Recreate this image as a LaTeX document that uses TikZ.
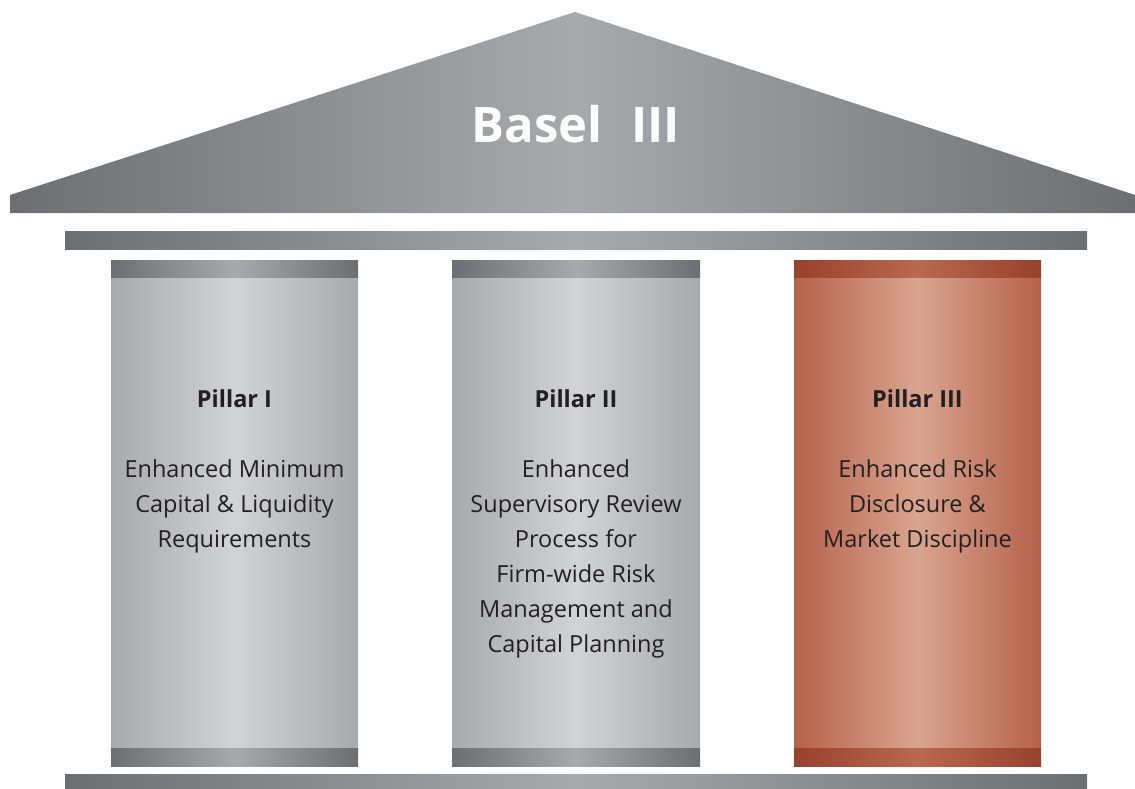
\documentclass[tikz,border=0pt]{standalone}
\usepackage{fontspec}
\setmainfont{Open Sans}
\definecolor{gdark}{HTML}{6D6E72}
\definecolor{gmid}{HTML}{A7A9AC}
\definecolor{glight}{HTML}{D1D3D4}
\definecolor{rdark}{HTML}{98412C}
\definecolor{rmidcap}{HTML}{B8694F}
\definecolor{redge}{HTML}{B5614A}
\definecolor{rlight}{HTML}{D9A58F}
\definecolor{ink}{HTML}{231F20}
\tikzset{
  x=1pt,y=-1pt,
  darkbar/.style={left color=gdark,right color=gdark,middle color=gmid},
  graybody/.style={left color=gmid,right color=gmid,middle color=glight},
  redcap/.style={left color=rdark,right color=rdark,middle color=rmidcap},
  redbody/.style={left color=redge,right color=redge,middle color=rlight},
  title/.style={font=\fontsize{23.5}{26}\selectfont\bfseries,text=ink,inner sep=0},
  body/.style={font=\fontsize{23.5}{35}\selectfont,text=ink,align=center,anchor=north,inner sep=0},
}
\begin{document}
\begin{tikzpicture}
\useasboundingbox (0,0) rectangle (1135,789);
% roof
\shade[darkbar] (10,195) -- (575,12) -- (1135,195) -- (1135,213) -- (10,213) -- cycle;
\node[text=white,font=\fontsize{49}{56}\selectfont\bfseries,inner sep=0] (basel) at (576,124) {Basel\hspace{16pt} III};
% architrave
\shade[darkbar] (65,231) rectangle (1087,249);
% base
\shade[darkbar] (65,774) rectangle (1087,789);
% pillars
\foreach \xa/\xb/\body/\cap in {111/358/graybody/darkbar,452/700/graybody/darkbar,794/1041/redbody/redcap}{
  \shade[\body] (\xa,277) rectangle (\xb,748);
  \shade[\cap] (\xa,260) rectangle (\xb,277);
  \shade[\cap] (\xa,748) rectangle (\xb,766);
}
\node[title] (t1) at (234.5,399) {Pillar I};
\node[title] (t2) at (576,399) {Pillar II};
\node[title] (t3) at (917.5,399) {Pillar III};
\node[body] (b1) at (234.5,459) {Enhanced Minimum\\Capital \& Liquidity\\Requirements};
\node[body] (b2) at (576,459) {Enhanced\\Supervisory Review\\Process for\\Firm-wide Risk\\Management and\\Capital Planning};
\node[body] (b3) at (917.5,459) {Enhanced Risk\\Disclosure \&\\Market Discipline};
\end{tikzpicture}
\end{document}
